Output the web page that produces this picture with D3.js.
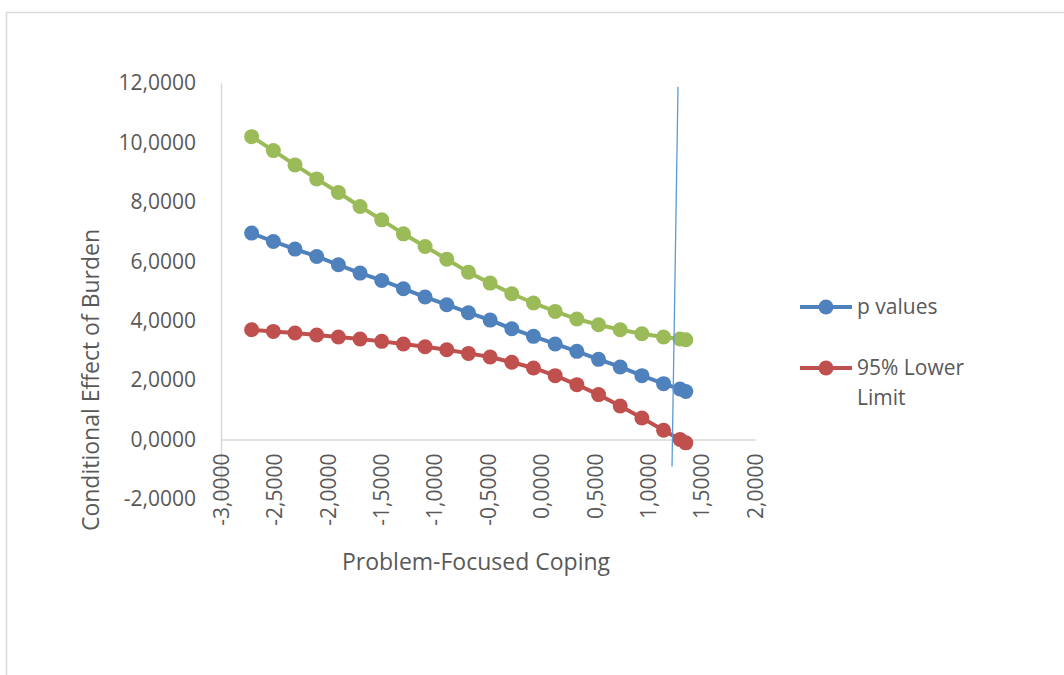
<!DOCTYPE html>
<html>
<head>
<meta charset="utf-8">
<script src="https://cdn.jsdelivr.net/npm/d3@7"></script>
<style>
  body { margin: 0; background: #fff; }
  text { font-family: "Open Sans", sans-serif; fill: #595959; }
</style>
</head>
<body>
<div id="chart"></div>
<script>
// values
var coping = [-2.713, -2.510, -2.307, -2.104, -1.901, -1.698, -1.495, -1.292, -1.089, -0.886,
              -0.683, -0.480, -0.277, -0.074, 0.129, 0.332, 0.535, 0.738, 0.941, 1.144, 1.298, 1.352];
var pValues = [6.948, 6.666, 6.410, 6.163, 5.882, 5.602, 5.355, 5.076, 4.796, 4.538,
               4.270, 4.020, 3.731, 3.473, 3.218, 2.969, 2.700, 2.444, 2.151, 1.882, 1.700, 1.620];
var lowerLimit = [3.697, 3.641, 3.587, 3.519, 3.452, 3.385, 3.305, 3.216, 3.126, 3.025,
                  2.900, 2.780, 2.600, 2.410, 2.151, 1.849, 1.513, 1.130, 0.728, 0.314, 0.000, -0.110];
var upperLimit = [10.195, 9.725, 9.244, 8.773, 8.313, 7.843, 7.395, 6.924, 6.500, 6.071,
                  5.630, 5.266, 4.908, 4.596, 4.314, 4.057, 3.866, 3.697, 3.563, 3.452, 3.385, 3.361];
var xTicks = [-3, -2.5, -2, -1.5, -1, -0.5, 0, 0.5, 1, 1.5, 2];
var yTicks = [-2, 0, 2, 4, 6, 8, 10, 12];
// thin drawn line near the Johnson-Neyman point (x, y pairs)
var refLine = [[1.279, 11.87], [1.223, -0.91]];

var series = [
  {name: "95% Upper Limit", values: upperLimit, color: "#9bbb59", legend: false},
  {name: "p values", values: pValues, color: "#4f81bd", legend: true},
  {name: "95% Lower Limit", values: lowerLimit, color: "#c0504d", legend: true}
];

var W = 1064, H = 675;
var svg = d3.select("#chart").append("svg").attr("width", W).attr("height", H);

// outer chart border
svg.append("rect").attr("x", 6.5).attr("y", 12.5).attr("width", 1100).attr("height", 700)
   .attr("fill", "none").attr("stroke", "#d9d9d9").attr("stroke-width", 1.5);

var x = d3.scaleLinear().domain([-3, 2]).range([221, 755]);
var y = d3.scaleLinear().domain([-2, 12]).range([499, 83]);

function fmt(d) { return d3.format(".4f")(d).replace(".", ",").replace("\u2212", "-"); }

// y axis
var yAxis = svg.append("g").attr("transform", "translate(" + x(-3) + ",0)")
   .call(d3.axisLeft(y).tickValues(yTicks).tickSize(0).tickPadding(25).tickFormat(fmt));
yAxis.select(".domain").attr("stroke", "#d9d9d9").attr("stroke-width", 1.5);
yAxis.selectAll("text").style("font-size", "21px").attr("fill", "#595959");

// x axis at y = 0
var xAxis = svg.append("g").attr("transform", "translate(0," + y(0) + ")")
   .call(d3.axisBottom(x).tickValues(xTicks).tickSize(0).tickFormat(fmt));
xAxis.select(".domain").attr("stroke", "#d9d9d9").attr("stroke-width", 1.5);
xAxis.selectAll("text")
   .style("font-size", "21px").attr("fill", "#595959")
   .attr("text-anchor", "end")
   .attr("transform", "rotate(-90)")
   .attr("x", -14).attr("y", 0).attr("dy", "0.35em");

// axis titles
svg.append("text").attr("x", 476).attr("y", 570).attr("text-anchor", "middle")
   .style("font-size", "23px").text("Problem-Focused Coping");
svg.append("text").attr("transform", "translate(99,380) rotate(-90)").attr("text-anchor", "middle")
   .style("font-size", "23px").text("Conditional Effect of Burden");

// series
var line = d3.line().x(function(d){ return x(d[0]); }).y(function(d){ return y(d[1]); });
series.forEach(function(s){
  var pts = coping.map(function(c, i){ return [c, s.values[i]]; });
  var g = svg.append("g");
  g.append("path").datum(pts).attr("d", line).attr("fill", "none")
   .attr("stroke", s.color).attr("stroke-width", 4);
  g.selectAll("circle").data(pts).enter().append("circle")
   .attr("cx", function(d){ return x(d[0]); })
   .attr("cy", function(d){ return y(d[1]); })
   .attr("r", 7.5).attr("fill", s.color);
});

// drawn vertical line
svg.append("path").datum(refLine).attr("d", line).attr("fill", "none")
   .attr("stroke", "#5b9bd5").attr("stroke-width", 1.3);

// legend
var legend = svg.append("g");
var legendItems = series.filter(function(s){ return s.legend; });
legendItems.forEach(function(s, i){
  var ly = 307 + i * 61;
  legend.append("line").attr("x1", 800).attr("x2", 852).attr("y1", ly).attr("y2", ly)
        .attr("stroke", s.color).attr("stroke-width", 4);
  legend.append("circle").attr("cx", 826).attr("cy", ly).attr("r", 7.5).attr("fill", s.color);
  var t = legend.append("text").attr("x", 857).attr("y", ly).attr("dy", "0.35em")
        .style("font-size", "21px");
  if (s.name === "95% Lower Limit") {
    t.append("tspan").text("95% Lower");
    t.append("tspan").attr("x", 857).attr("dy", "30").text("Limit");
  } else {
    t.text(s.name);
  }
});
</script>
</body>
</html>
